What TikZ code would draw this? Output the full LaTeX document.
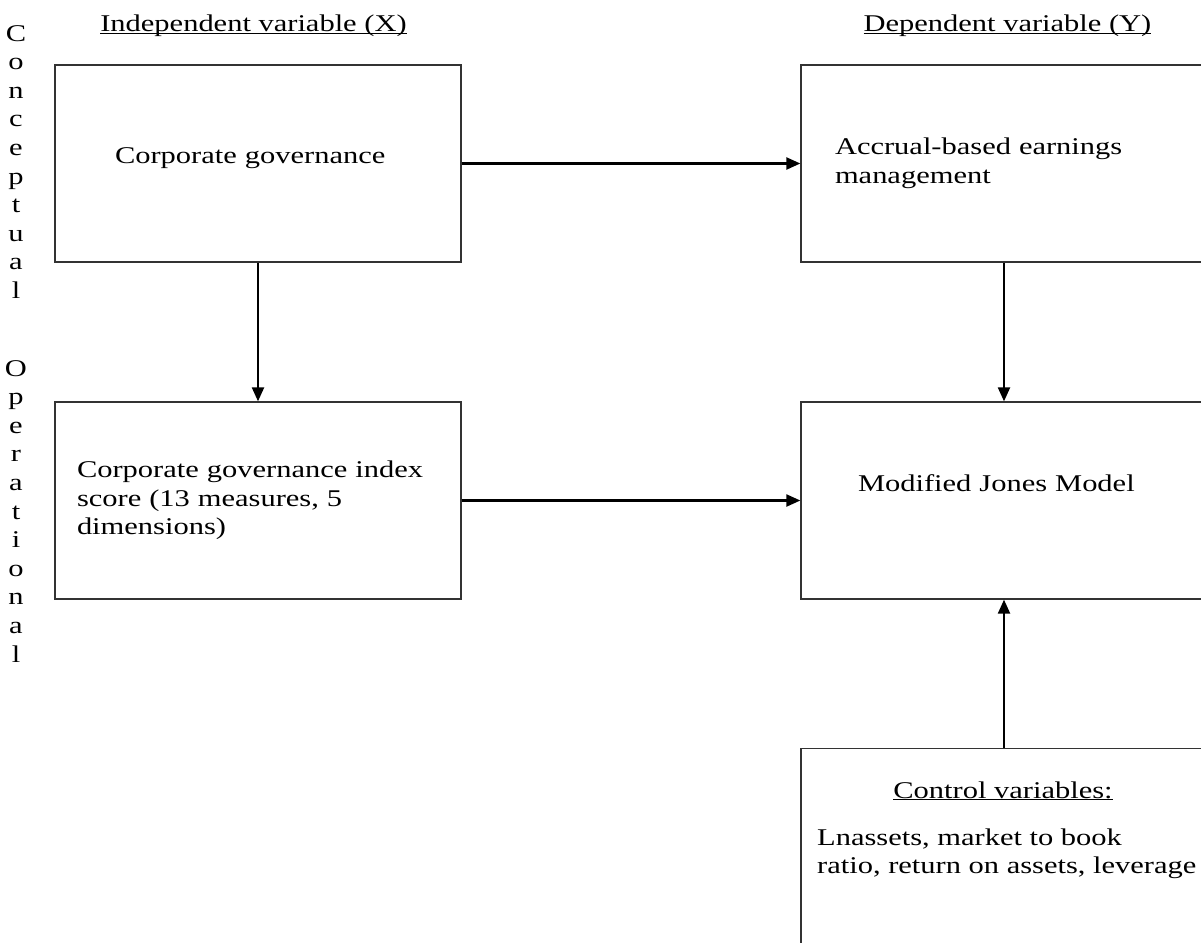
\documentclass[tikz,border=0pt]{standalone}
\usepackage{fontspec}
\setmainfont{Liberation Serif}[FakeStretch=1.27]
\usetikzlibrary{arrows.meta,positioning}

\newcommand{\ulabel}[1]{\setbox0=\hbox{#1}\rlap{\rule[-2.2pt]{\wd0}{1.1pt}}\box0}

\tikzset{
  varbox/.style={draw=black!80, line width=1.3pt, minimum width=406pt, minimum height=197pt, align=left, inner ysep=0pt},
  link/.style={line width=2.2pt, -{Triangle[length=14pt,width=12pt]}},
  sidetext/.style={align=center, inner sep=0pt, anchor=north}
}

\begin{document}
\begin{tikzpicture}[x=1pt, y=-1pt, font=\fontsize{24}{28.6}\selectfont]
    \useasboundingbox (0,0) rectangle (1201,942);
    \clip (0,0) rectangle (1201,942);

    \node[sidetext] (concept) at (16,25) {C\\o\\n\\c\\e\\p\\t\\u\\a\\l};
    \node[sidetext] (operat) at (16,360) {O\\p\\e\\r\\a\\t\\i\\o\\n\\a\\l};

    \node[anchor=base] (xhead) at (253.5,32) {\ulabel{Independent variable (X)}};
    \node[anchor=base] (yhead) at (1007.5,32) {\ulabel{Dependent variable (Y)}};

    \node[varbox, inner xsep=60pt, text width=286pt, text height=12pt, text depth=12pt] (gov) at (258,163.5) {Corporate governance};
    \node[varbox, inner xsep=34pt, text width=338pt] (accr) at (1004,163.5) {Accrual-based earnings\\management};
    \node[varbox, inner xsep=22pt, text width=362pt] (index) at (258,500.5) {Corporate governance index\\score (13 measures, 5\\dimensions)};
    \node[varbox, inner xsep=57pt, text width=292pt, text height=10pt, text depth=29pt] (jones) at (1004,500.5) {Modified Jones Model};

    % control variables box runs off the page
    \node[varbox, minimum height=300pt, anchor=north] (ctrl) at (1004,748) {};
    \node[anchor=base] (ctrltitle) at (1003,798) {\ulabel{Control variables:}};
    \node[anchor=north west, align=left, inner sep=0pt] (ctrlitems) at (817,828.5) {Lnassets, market to book\\ratio, return on assets, leverage};

    \draw[link] (gov) -- (accr);
    \draw[link] (gov) -- (index);
    \draw[link] (accr) -- (jones);
    \draw[link] (index) -- (jones);
    \draw[link] (ctrl) -- (jones);
\end{tikzpicture}
\end{document}
